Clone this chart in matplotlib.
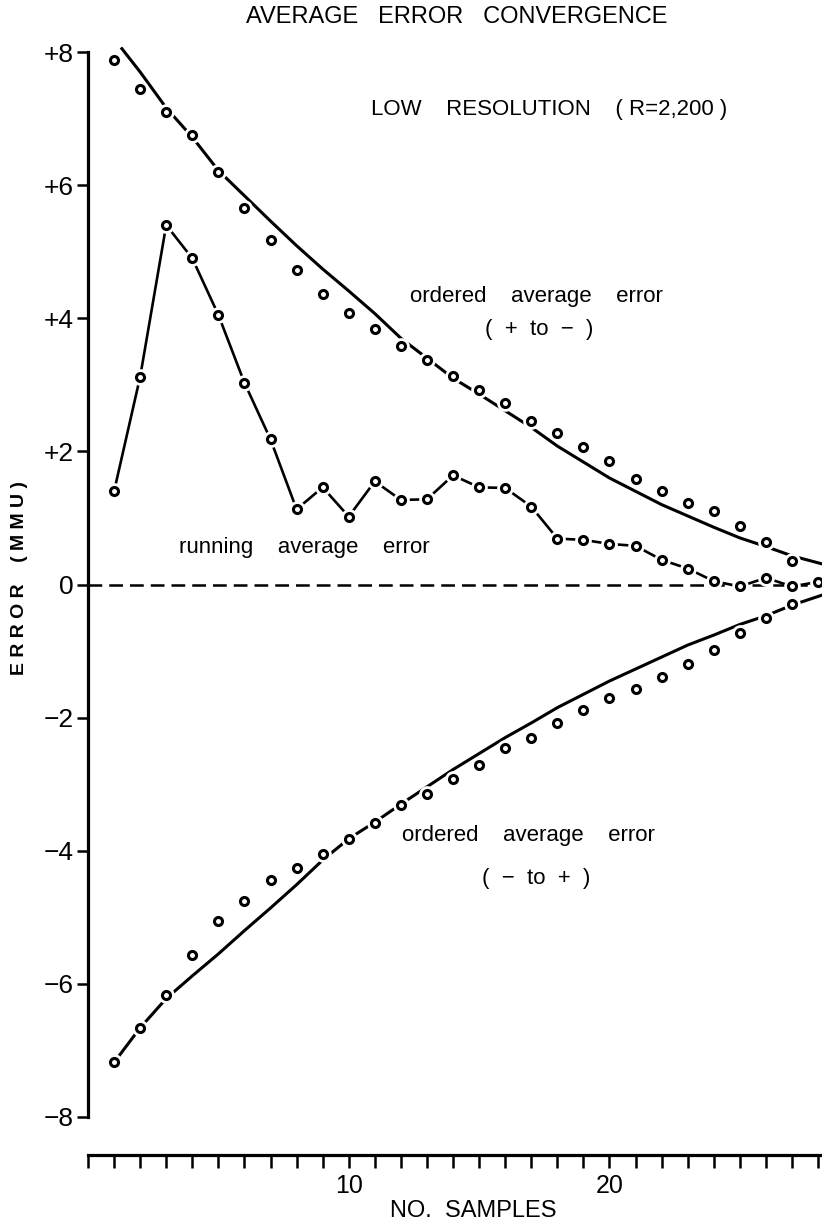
import matplotlib
matplotlib.use("Agg")
import matplotlib.pyplot as plt

plt.rcParams['font.family'] = ['Liberation Sans', 'DejaVu Sans']

# ordered average error points (+ to -) and (- to +)
samples = list(range(1, 28))
upper_dots = [7.88, 7.45, 7.10, 6.76, 6.20, 5.65, 5.17, 4.73, 4.37, 4.08,
              3.84, 3.59, 3.37, 3.13, 2.92, 2.72, 2.46, 2.27, 2.06, 1.85,
              1.59, 1.41, 1.23, 1.11, 0.88, 0.64, 0.35]
lower_dots = [-7.18, -6.66, -6.17, -5.56, -5.05, -4.75, -4.44, -4.26, -4.05, -3.82,
              -3.59, -3.31, -3.14, -2.92, -2.71, -2.46, -2.30, -2.08, -1.89, -1.71,
              -1.57, -1.39, -1.19, -0.98, -0.73, -0.50, -0.29]

# running average error
run_samples = list(range(1, 29))
running = [1.40, 3.12, 5.40, 4.90, 4.05, 3.03, 2.18, 1.13, 1.46, 1.02,
           1.55, 1.27, 1.28, 1.64, 1.46, 1.45, 1.17, 0.69, 0.67, 0.61,
           0.58, 0.37, 0.24, 0.05, -0.03, 0.10, -0.03, 0.04]

# smooth reference curves
upper_curve_x = [1.3, 2, 3, 4, 5, 6, 7, 8, 9, 10, 11, 12, 13, 14, 15,
                 16, 17, 18, 19, 20, 21, 22, 23, 24, 25, 26, 27, 28.15]
upper_curve = [8.05, 7.70, 7.16, 6.72, 6.22, 5.84, 5.46, 5.09, 4.74, 4.41,
               4.07, 3.70, 3.40, 3.10, 2.86, 2.61, 2.36, 2.08, 1.84, 1.60,
               1.40, 1.20, 1.03, 0.86, 0.70, 0.57, 0.43, 0.31]
lower_curve_x = [1, 2, 3, 4, 5, 6, 7, 8, 9, 10, 11, 12, 13, 14, 15,
                 16, 17, 18, 19, 20, 21, 22, 23, 24, 25, 26, 27, 28.15]
lower_curve = [-7.18, -6.66, -6.22, -5.88, -5.55, -5.20, -4.86, -4.51, -4.14, -3.82,
               -3.57, -3.30, -3.04, -2.78, -2.54, -2.30, -2.08, -1.85, -1.65, -1.45,
               -1.27, -1.09, -0.91, -0.76, -0.60, -0.47, -0.31, -0.16]

y_ticks = [-8, -6, -4, -2, 0, 2, 4, 6, 8]
y_tick_labels = ['\u22128', '\u22126', '\u22124', '\u22122', '0', '+2', '+4', '+6', '+8']
x_ticks = list(range(0, 29))
x_tick_labels = ['' if t not in (10, 20) else str(t) for t in x_ticks]

fig = plt.figure(figsize=(8.22, 12.27), dpi=100)
ax = fig.add_axes([88 / 822, 1 - 1117 / 1227, 734 / 822, 1065 / 1227])

# zero line
ax.plot([0, 28.15], [0, 0], color='black', lw=1.8, dashes=[5.5, 2.8], zorder=1)

# curves
ax.plot(upper_curve_x, upper_curve, color='black', lw=2.2, zorder=2, clip_on=False)
ax.plot(lower_curve_x, lower_curve, color='black', lw=2.2, zorder=2, clip_on=False)
ax.plot(run_samples, running, color='black', lw=1.9, zorder=2, clip_on=False)

# white halos so lines break around the circles
for xs, ys in [(samples, upper_dots), (samples, lower_dots), (run_samples, running)]:
    ax.plot(xs, ys, 'o', ms=12, mfc='white', mec='none', zorder=3, clip_on=False)
for xs, ys in [(samples, upper_dots), (samples, lower_dots), (run_samples, running)]:
    ax.plot(xs, ys, 'o', ms=5.8, mfc='white', mec='black', mew=2.2, zorder=4, clip_on=False)

ax.set_xlim(0, 28.15)
ax.set_ylim(-8, 8)

for s in ['top', 'right']:
    ax.spines[s].set_visible(False)
ax.spines['left'].set_linewidth(2.3)
ax.spines['bottom'].set_linewidth(2.3)
ax.spines['bottom'].set_position(('outward', 27.4))

ax.set_yticks(y_ticks)
ax.set_yticklabels(y_tick_labels, fontsize=19)
ax.set_xticks(x_ticks)
ax.set_xticklabels(x_tick_labels, fontsize=18)
ax.tick_params(axis='y', direction='out', length=8, width=1.8, pad=2)
ax.tick_params(axis='x', direction='out', length=9.4, width=1.8, pad=4)

# annotations
ax.text(17.7, 7.14, 'LOW    RESOLUTION    ( R=2,200 )', fontsize=16, ha='center', va='center')
ax.text(17.2, 4.32, 'ordered    average    error', fontsize=16, ha='center', va='center')
ax.text(17.3, 3.83, '(  +  to  \u2212  )', fontsize=16, ha='center', va='center')
ax.text(8.3, 0.56, 'running    average    error', fontsize=16, ha='center', va='center')
ax.text(16.9, -3.77, 'ordered    average    error', fontsize=16, ha='center', va='center')
ax.text(17.2, -4.41, '(  \u2212  to  +  )', fontsize=16, ha='center', va='center')

fig.text(457 / 822, 1 - 17 / 1227, 'AVERAGE   ERROR   CONVERGENCE', fontsize=17,
         ha='center', va='center')
fig.text(473 / 822, 1 - 1211 / 1227, 'NO.  SAMPLES', fontsize=17, ha='center', va='center')
fig.text(20 / 822, 1 - 578 / 1227, 'E R R O R    ( M M U )', fontsize=14, fontweight='bold',
         rotation=90, ha='center', va='center')

fig.savefig('out.png', dpi=100)
